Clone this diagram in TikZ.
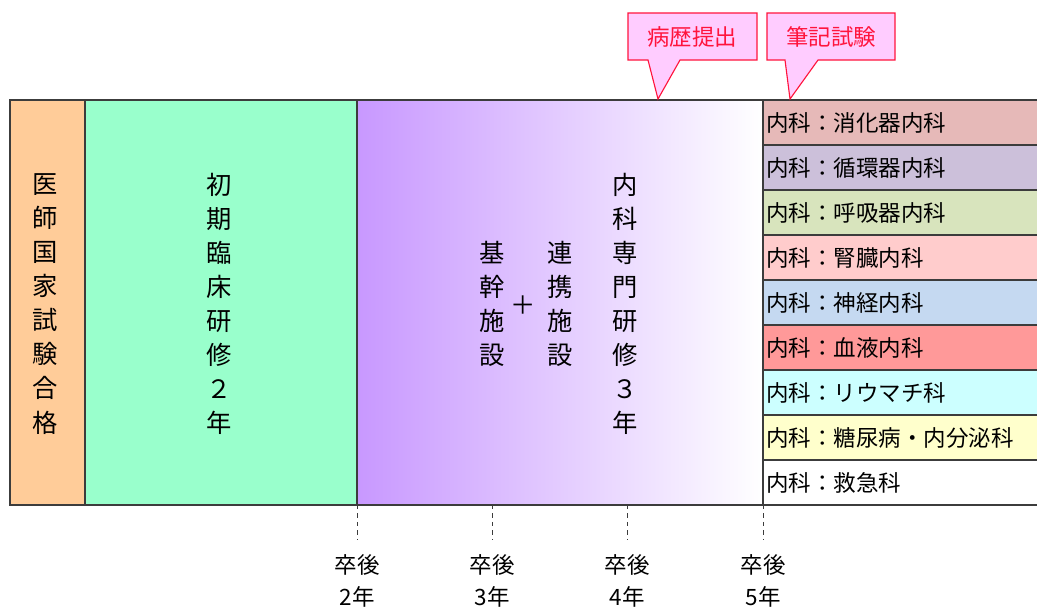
\documentclass[tikz,border=0pt]{standalone}
\usepackage{fontspec}
\setmainfont{Noto Sans CJK JP}
\usetikzlibrary{positioning}
\definecolor{black}{RGB}{0,0,0}
\definecolor{framegray}{RGB}{60,60,60}
\definecolor{kokushi}{RGB}{255,204,153}
\definecolor{shoki}{RGB}{153,255,204}
\definecolor{senmon}{RGB}{200,152,255}
\definecolor{calloutfill}{RGB}{255,204,255}
\definecolor{calloutred}{RGB}{255,20,60}
\definecolor{rowA}{RGB}{230,185,184}
\definecolor{rowB}{RGB}{204,192,218}
\definecolor{rowC}{RGB}{216,228,189}
\definecolor{rowD}{RGB}{255,204,204}
\definecolor{rowE}{RGB}{197,217,241}
\definecolor{rowF}{RGB}{255,153,153}
\definecolor{rowG}{RGB}{204,255,255}
\definecolor{rowH}{RGB}{255,255,204}
\definecolor{rowI}{RGB}{255,255,255}

\begin{document}
\begin{tikzpicture}[x=0.025cm,y=-0.025cm,
        band/.style={draw=framegray,line width=0.8pt},
        tatetext/.style={align=center,inner sep=0pt,font=\fontsize{18}{24.2}\selectfont},
        rowtext/.style={anchor=west,inner sep=0pt,font=\fontsize{16}{18}\selectfont},
        balloon/.style={draw=calloutred,fill=calloutfill,line width=0.8pt},
        balloontext/.style={inner sep=0pt,text=calloutred,font=\fontsize{16}{18}\selectfont},
        yeartick/.style={draw=framegray,dashed,line width=0.6pt},
        yeartext/.style={align=center,inner sep=0pt,font=\fontsize{16}{22.8}\selectfont}]
    \useasboundingbox (0,0) rectangle (1037,608);

    % columns
    \draw[band,fill=kokushi] (10,100) rectangle (85,505);
    \draw[band,fill=shoki] (85,100) rectangle (357,505);
    \draw[band,left color=senmon,right color=white] (357,100) rectangle (763,505);

    \node[tatetext] (kokushi) at (45,304) {医\\師\\国\\家\\試\\験\\合\\格};
    \node[tatetext] (shoki) at (219,304) {初\\期\\臨\\床\\研\\修\\２\\年};
    \node[tatetext] (senmon) at (625,304) {内\\科\\専\\門\\研\\修\\３\\年};
    \node[tatetext] (renkei) at (560,304) {連\\携\\施\\設};
    \node[tatetext] (kikan) at (492,304) {基\\幹\\施\\設};
    \node[inner sep=0pt,font=\fontsize{18}{20}\selectfont] (plus) at (523,305) {＋};

    % subspecialty rows
    \foreach \i/\col/\txt in {0/rowA/消化器内科,1/rowB/循環器内科,2/rowC/呼吸器内科,
            3/rowD/腎臓内科,4/rowE/神経内科,5/rowF/血液内科,6/rowG/リウマチ科,
            7/rowH/糖尿病・内分泌科,8/rowI/救急科} {
        \draw[band,fill=\col] (763,100+\i*45) rectangle (1045,145+\i*45);
        \node[rowtext] (row\i) at (766,122.5+\i*45) {内科：\txt};
    }

    % callouts
    \draw[balloon] (628,13) -- (757,13) -- (757,60) -- (680,60) -- (658,99)
        -- (648,60) -- (628,60) -- cycle;
    \node[balloontext] (byoreki) at (692,37) {病歴提出};
    \draw[balloon] (767,13) -- (895,13) -- (895,60) -- (818,60) -- (790,99)
        -- (785,60) -- (767,60) -- cycle;
    \node[balloontext] (hikki) at (831,37) {筆記試験};

    % years after graduation
    \foreach \x/\n in {357/2,492/3,627/4,763/5} {
        \coordinate (tick\n) at (\x,505);
        \draw[yeartick] (tick\n) -- ++(0,35);
        \node[yeartext] (year\n) at (\x,581) {卒後\\\n 年};
    }
\end{tikzpicture}
\end{document}
